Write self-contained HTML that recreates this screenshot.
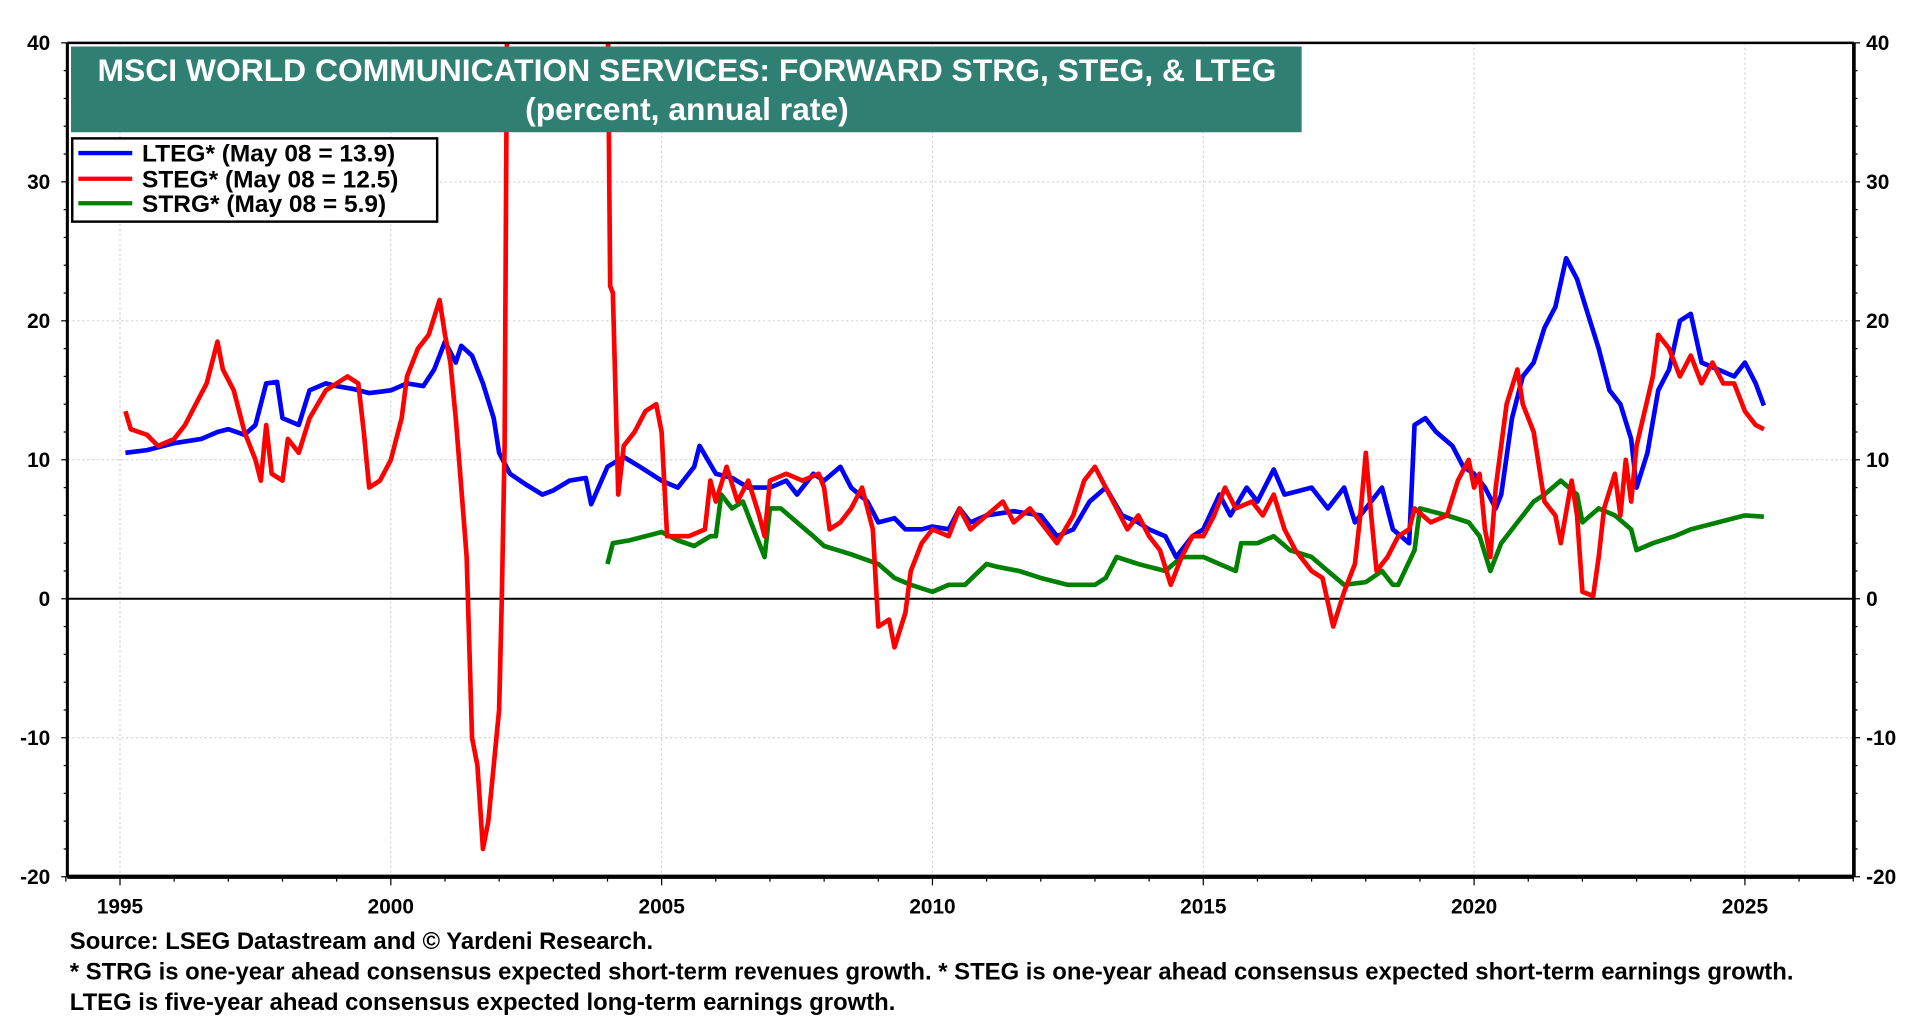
<!DOCTYPE html>
<html><head><meta charset="utf-8">
<style>
html,body{margin:0;padding:0;background:#fff;}
svg{display:block;font-family:"Liberation Sans",Arial,sans-serif;font-weight:bold;}
</style></head>
<body>
<svg id="chart" width="1920" height="1020" viewBox="0 0 1920 1020" xmlns="http://www.w3.org/2000/svg">
<g id="root" transform="scale(1.2245)"></g>
</svg>
<script>
// ---- data (year, value) ----
const ltegYears = [1995.1,1995.5,1996.0,1996.5,1996.8,1997.0,1997.3,1997.5,1997.7,1997.9,1998.0,1998.3,1998.5,1998.8,1999.0,1999.3,1999.6,2000.0,2000.3,2000.6,2000.8,2001.0,2001.2,2001.3,2001.5,2001.7,2001.9,2002.0,2002.2,2002.5,2002.8,2003.0,2003.3,2003.6,2003.7,2004.0,2004.3,2004.6,2005.0,2005.3,2005.6,2005.7,2006.0,2006.3,2006.6,2007.0,2007.3,2007.5,2007.8,2008.0,2008.3,2008.5,2008.8,2009.0,2009.3,2009.5,2009.8,2010.0,2010.3,2010.5,2010.7,2011.0,2011.5,2012.0,2012.3,2012.6,2012.9,2013.2,2013.5,2013.8,2014.0,2014.3,2014.5,2014.8,2015.0,2015.3,2015.5,2015.8,2016.0,2016.3,2016.5,2017.0,2017.3,2017.6,2017.8,2018.0,2018.3,2018.5,2018.8,2018.9,2019.1,2019.3,2019.6,2019.8,2020.0,2020.2,2020.4,2020.5,2020.7,2020.9,2021.1,2021.3,2021.5,2021.7,2021.9,2022.1,2022.3,2022.5,2022.7,2022.9,2023.0,2023.2,2023.4,2023.6,2023.8,2024.0,2024.2,2024.5,2024.8,2025.0,2025.2,2025.35];
const ltegValues = [10.5,10.7,11.2,11.5,12.0,12.2,11.8,12.5,15.5,15.6,13.0,12.5,15.0,15.5,15.3,15.1,14.8,15.0,15.5,15.3,16.5,18.5,17.0,18.2,17.5,15.5,13.0,10.5,9.0,8.2,7.5,7.8,8.5,8.7,6.8,9.5,10.2,9.5,8.5,8.0,9.5,11.0,9.0,8.7,8.0,8.0,8.5,7.5,9.0,8.5,9.5,8.0,7.0,5.5,5.8,5.0,5.0,5.2,5.0,6.5,5.5,6.0,6.3,6.0,4.5,5.0,7.0,8.0,6.0,5.5,5.0,4.5,3.0,4.5,5.0,7.5,6.0,8.0,7.0,9.3,7.5,8.0,6.5,8.0,5.5,6.5,8.0,5.0,4.0,12.5,13.0,12.0,11.0,9.5,9.0,8.0,6.5,7.5,13.0,16.0,17.0,19.5,21.0,24.5,23.0,20.5,18.0,15.0,14.0,11.5,8.0,10.5,15.0,16.5,20.0,20.5,17.0,16.5,16.0,17.0,15.5,13.9];
const stegYears = [1995.1,1995.2,1995.5,1995.7,1996.0,1996.2,1996.4,1996.6,1996.8,1996.9,1997.1,1997.3,1997.5,1997.6,1997.7,1997.8,1998.0,1998.1,1998.3,1998.5,1998.8,1999.0,1999.2,1999.4,1999.5,1999.6,1999.8,2000.0,2000.2,2000.3,2000.5,2000.7,2000.9,2001.0,2001.1,2001.2,2001.3,2001.4,2001.5,2001.6,2001.7,2001.8,2001.9,2002.0,2002.05,2002.1,2002.15,2004.0,2004.05,2004.1,2004.2,2004.3,2004.5,2004.7,2004.9,2005.0,2005.1,2005.5,2005.8,2005.9,2006.0,2006.2,2006.4,2006.6,2006.8,2006.9,2007.0,2007.3,2007.6,2007.9,2008.0,2008.1,2008.3,2008.5,2008.7,2008.9,2009.0,2009.2,2009.3,2009.5,2009.6,2009.8,2010.0,2010.3,2010.5,2010.7,2011.0,2011.3,2011.5,2011.8,2012.0,2012.3,2012.6,2012.8,2013.0,2013.2,2013.4,2013.6,2013.8,2014.0,2014.2,2014.4,2014.6,2014.8,2015.0,2015.2,2015.4,2015.6,2015.9,2016.1,2016.3,2016.5,2016.7,2017.0,2017.2,2017.4,2017.6,2017.8,2017.9,2018.0,2018.1,2018.2,2018.4,2018.6,2018.8,2018.9,2019.2,2019.5,2019.7,2019.9,2020.0,2020.1,2020.2,2020.3,2020.4,2020.6,2020.8,2020.9,2021.1,2021.3,2021.5,2021.6,2021.8,2021.9,2022.0,2022.2,2022.3,2022.4,2022.6,2022.7,2022.8,2022.9,2023.0,2023.3,2023.4,2023.6,2023.8,2024.0,2024.2,2024.4,2024.6,2024.8,2025.0,2025.2,2025.35];
const stegValues = [13.5,12.2,11.8,11.0,11.5,12.5,14.0,15.5,18.5,16.5,15.0,12.0,10.0,8.5,12.5,9.0,8.5,11.5,10.5,13.0,15.0,15.5,16.0,15.5,12.0,8.0,8.5,10.0,13.0,16.0,18.0,19.0,21.5,19.0,17.0,13.0,8.0,3.0,-10,-12,-18,-16,-12,-8,0,11,45,45,22.5,22,7.5,11,12,13.5,14,12,4.5,4.5,5.0,8.5,7.0,9.5,7.0,8.5,6.0,4.5,8.5,9.0,8.5,9.0,8.0,5.0,5.5,6.5,8.0,5.0,-2.0,-1.5,-3.5,-1,2.0,4.0,5.0,4.5,6.5,5.0,6.0,7.0,5.5,6.5,5.5,4.0,6.0,8.5,9.5,8.0,6.5,5.0,6.0,4.5,3.5,1.0,3.0,4.5,4.5,6.0,8.0,6.5,7.0,6.0,7.5,5.0,3.5,2.0,1.5,-2.0,0.5,2.5,6.0,10.5,6.0,2.0,3.0,4.5,5.0,6.5,5.5,6.0,8.5,10.0,8.0,9.0,5.0,3.0,8.0,14.0,16.5,14.0,12.0,7.0,6.0,4.0,8.5,6.0,0.5,0.2,3.0,6.5,9.0,6.0,10.0,7.0,11.0,16.0,19.0,18.0,16.0,17.5,15.5,17.0,15.5,15.5,13.5,12.5,12.2];
const strgYears = [2004.0,2004.1,2004.4,2004.7,2005.0,2005.3,2005.6,2005.9,2006.0,2006.1,2006.3,2006.5,2006.7,2006.9,2007.0,2007.2,2007.5,2007.8,2008.0,2008.5,2009.0,2009.3,2009.6,2010.0,2010.3,2010.6,2011.0,2011.2,2011.6,2012.0,2012.5,2013.0,2013.2,2013.4,2013.8,2014.3,2014.6,2015.0,2015.3,2015.6,2015.7,2016.0,2016.3,2016.6,2017.0,2017.3,2017.6,2018.0,2018.3,2018.5,2018.6,2018.9,2019.0,2019.5,2019.9,2020.1,2020.3,2020.5,2020.8,2021.1,2021.3,2021.6,2021.9,2022.0,2022.3,2022.6,2022.9,2023.0,2023.3,2023.7,2024.0,2024.5,2025.0,2025.35];
const strgValues = [2.5,4.0,4.2,4.5,4.8,4.2,3.8,4.5,4.5,7.5,6.5,7.0,5.0,3.0,6.5,6.5,5.5,4.5,3.8,3.2,2.5,1.5,1.0,0.5,1.0,1.0,2.5,2.3,2.0,1.5,1.0,1.0,1.5,3.0,2.5,2.0,3.0,3.0,2.5,2.0,4.0,4.0,4.5,3.5,3.0,2.0,1.0,1.2,2.0,1.0,1.0,3.5,6.5,6.0,5.5,4.5,2.0,4.0,5.5,7.0,7.5,8.5,7.5,5.5,6.5,6.0,5.0,3.5,4.0,4.5,5.0,5.5,6.0,5.9];
const yTicks = [-20,-10,0,10,20,30,40];
const xTicks = [1995,2000,2005,2010,2015,2020,2025];

// ---- geometry (display coords, scaled 1.2245) ----
const L=55,R=1514,T=35,B=716;
const xs = yr => 98 + (yr-1995)*(1425-98)/30;
const ys = v => 489 - v*11.35;
const NS="http://www.w3.org/2000/svg";
const root=document.getElementById('root');
function mk(tag,attrs,parent){const e=document.createElementNS(NS,tag);for(const k in attrs)e.setAttribute(k,attrs[k]);(parent||root).appendChild(e);return e;}

const defs=mk('defs',{});
const cp=mk('clipPath',{id:'plotclip'},defs);
mk('rect',{x:L,y:T,width:R-L,height:B-T},cp);

const grid=mk('g',{});


yTicks.forEach(v=>{ if(v>-20&&v<40) mk('line',{x1:L,x2:R,y1:ys(v),y2:ys(v),stroke:'#cfcfcf','stroke-width':0.8,'stroke-dasharray':'2,2'},grid);});
xTicks.forEach(v=>mk('line',{x1:xs(v),x2:xs(v),y1:T,y2:B,stroke:'#cfcfcf','stroke-width':0.8,'stroke-dasharray':'2,2'},grid));

const zl=mk('line',{x1:L,x2:R,y1:ys(0),y2:ys(0),stroke:'#000','stroke-width':1.6});



function series(yrs,vals,color,name){
  const pts=yrs.map((y,i)=>xs(y).toFixed(1)+','+ys(vals[i]).toFixed(1)).join(' ');
  const p=mk('polyline',{points:pts,fill:'none',stroke:color,'stroke-width':3.8,'stroke-linejoin':'round','clip-path':'url(#plotclip)'});
  
  
}
series(strgYears,strgValues,'#008000','strg-line');
series(ltegYears,ltegValues,'#0000ff','lteg-line');
series(stegYears,stegValues,'#ff0000','steg-line');

const fr=mk('g',{});


mk('line',{x1:L,x2:R,y1:T,y2:T,stroke:'#000','stroke-width':2},fr);
mk('line',{x1:L,x2:L,y1:T,y2:B,stroke:'#000','stroke-width':2.5},fr);
mk('line',{x1:R,x2:R,y1:T,y2:B,stroke:'#000','stroke-width':3},fr);
mk('line',{x1:L,x2:R,y1:B,y2:B,stroke:'#000','stroke-width':3.5},fr);

for(let v=-20;v<=40;v+=2){
  const major=v%10===0;
  mk('line',{x1:L-(major?5:3),x2:L,y1:ys(v),y2:ys(v),stroke:'#000','stroke-width':1},fr);
  mk('line',{x1:R,x2:R+(major?5:3),y1:ys(v),y2:ys(v),stroke:'#000','stroke-width':1},fr);
}
yTicks.forEach(v=>{
  const t1=mk('text',{x:41,y:ys(v)+6,'text-anchor':'end','font-size':17});
  t1.textContent=v;
  
  
  const t2=mk('text',{x:1524,y:ys(v)+6,'text-anchor':'start','font-size':17});
  t2.textContent=v;
  
  
});
for(let yr=1994;yr<=2027;yr++){
  const major=yr%5===0;
  mk('line',{x1:xs(yr),x2:xs(yr),y1:B,y2:B+(major?7:4),stroke:'#000','stroke-width':1},fr);
}
xTicks.forEach(v=>{
  const t=mk('text',{x:xs(v),y:746,'text-anchor':'middle','font-size':17});
  t.textContent=v;
  
  
});
</script>
<svg style="position:absolute;left:0;top:0" width="1920" height="1020" viewBox="0 0 1920 1020" xmlns="http://www.w3.org/2000/svg">
<g transform="scale(1.2245)">
  <g>
    <rect x="58" y="38" width="1005" height="70" fill="#307f73"/>
    <text x="561" y="66" text-anchor="middle" font-size="26" fill="#fff">MSCI WORLD COMMUNICATION SERVICES: FORWARD STRG, STEG, &amp; LTEG</text>
    <text x="561" y="98" text-anchor="middle" font-size="26" fill="#fff">(percent, annual rate)</text>
  </g>
  <g>
    <rect x="59" y="113" width="298" height="68" fill="#fff" stroke="#000" stroke-width="2"/>
    <g>
      <line x1="64" x2="108" y1="125" y2="125" stroke="#0000ff" stroke-width="3.5"/>
      <text x="116" y="132" font-size="20">LTEG* (May 08 = 13.9)</text>
    </g>
    <g>
      <line x1="64" x2="108" y1="146" y2="146" stroke="#ff0000" stroke-width="3.5"/>
      <text x="116" y="153" font-size="20">STEG* (May 08 = 12.5)</text>
    </g>
    <g>
      <line x1="64" x2="108" y1="166" y2="166" stroke="#008000" stroke-width="3.5"/>
      <text x="116" y="173" font-size="20">STRG* (May 08 = 5.9)</text>
    </g>
  </g>
  <g font-size="19.5">
    <text x="57" y="775">Source: LSEG Datastream and © Yardeni Research.</text>
    <text x="57" y="800">* STRG is one-year ahead consensus expected short-term revenues growth. * STEG is one-year ahead consensus expected short-term earnings growth.</text>
    <text x="57" y="825">LTEG is five-year ahead consensus expected long-term earnings growth.</text>
  </g>
</g>
</svg>
</body></html>
